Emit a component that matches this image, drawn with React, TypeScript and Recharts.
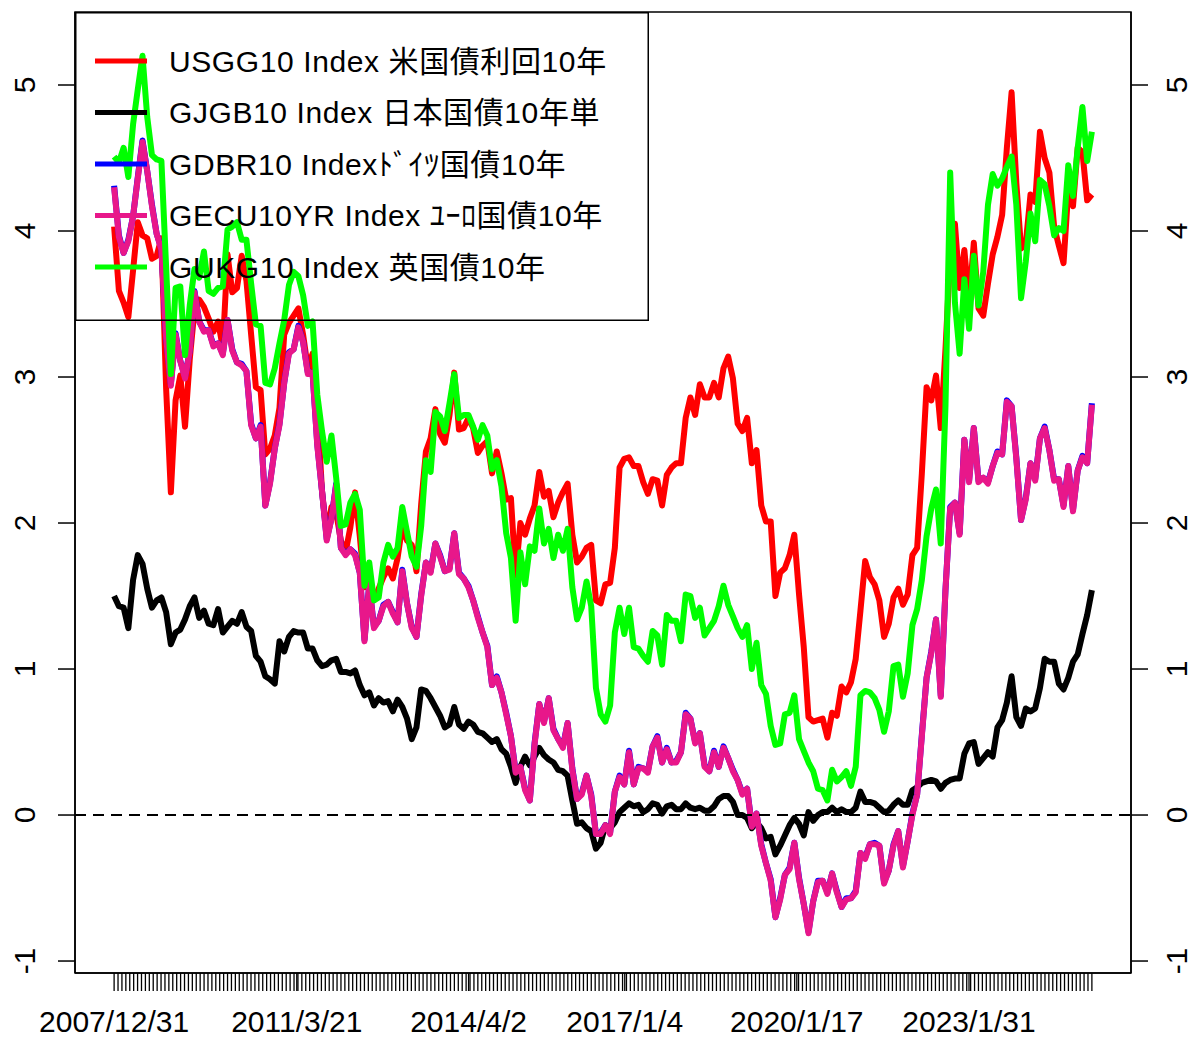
import React from 'react';
import { LineChart, Line, XAxis, YAxis, ReferenceLine, ReferenceArea, Legend } from 'recharts';

// x labels shown on the axis (R's date labels)
const xLabelDates = ['2007/12/31', '2011/3/21', '2014/4/2', '2017/1/4', '2020/1/17', '2023/1/31'];
const yTicks = [-1, 0, 1, 2, 3, 4, 5];

// first point 2007/12/31, then month-end values Jan 2008 .. Mar 2025
const usgg10 = [
  4.03,
  3.59, 3.51, 3.41, 3.73, 4.06, 3.97, 3.95, 3.81, 3.83, 3.95, 2.92, 2.21,
  2.84, 3.01, 2.66, 3.12, 3.46, 3.53, 3.48, 3.40, 3.31, 3.38, 3.20, 3.84,
  3.58, 3.61, 3.83, 3.66, 3.29, 2.93, 2.91, 2.47, 2.51, 2.60, 2.79, 3.29,
  3.37, 3.42, 3.47, 3.29, 3.06, 3.16, 2.80, 2.22, 1.92, 2.11, 2.07, 1.88,
  1.80, 1.97, 2.21, 1.91, 1.56, 1.65, 1.47, 1.55, 1.63, 1.69, 1.62, 1.76,
  1.98, 1.88, 1.85, 1.67, 2.13, 2.49, 2.58, 2.78, 2.61, 2.55, 2.74, 3.03,
  2.64, 2.65, 2.72, 2.65, 2.48, 2.53, 2.56, 2.34, 2.49, 2.34, 2.16, 2.17,
  1.64, 2.00, 1.92, 2.03, 2.12, 2.35, 2.18, 2.22, 2.04, 2.14, 2.21, 2.27,
  1.92, 1.73, 1.77, 1.83, 1.85, 1.47, 1.45, 1.58, 1.59, 1.83, 2.38, 2.44,
  2.45, 2.39, 2.39, 2.28, 2.20, 2.30, 2.29, 2.12, 2.33, 2.38, 2.41, 2.41,
  2.72, 2.86, 2.74, 2.95, 2.86, 2.86, 2.96, 2.86, 3.06, 3.14, 2.99, 2.68,
  2.63, 2.72, 2.41, 2.50, 2.12, 2.01, 2.01, 1.50, 1.66, 1.69, 1.78, 1.92,
  1.51, 1.15, 0.67, 0.64, 0.65, 0.66, 0.53, 0.70, 0.68, 0.88, 0.84, 0.91,
  1.07, 1.40, 1.74, 1.63, 1.58, 1.47, 1.22, 1.31, 1.49, 1.55, 1.44, 1.51,
  1.78, 1.83, 2.34, 2.93, 2.84, 3.01, 2.65, 3.19, 3.83, 4.05, 3.61, 3.87,
  3.51, 3.92, 3.47, 3.42, 3.64, 3.84, 3.96, 4.11, 4.57, 4.95, 4.33, 3.88,
  3.91, 4.25, 4.20, 4.68, 4.50, 4.40, 4.03, 3.90, 3.78, 4.28, 4.17, 4.57,
  4.54, 4.21, 4.25,
];

const gjgb10 = [
  1.50,
  1.43, 1.42, 1.28, 1.61, 1.78, 1.72, 1.55, 1.42, 1.47, 1.49, 1.39, 1.17,
  1.25, 1.27, 1.34, 1.43, 1.49, 1.35, 1.40, 1.31, 1.30, 1.41, 1.25, 1.29,
  1.33, 1.31, 1.39, 1.29, 1.26, 1.09, 1.05, 0.95, 0.93, 0.90, 1.19, 1.12,
  1.22, 1.26, 1.25, 1.25, 1.14, 1.14, 1.06, 1.02, 1.03, 1.06, 1.07, 0.98,
  0.98, 0.97, 0.99, 0.89, 0.82, 0.84, 0.75, 0.80, 0.77, 0.78, 0.71, 0.79,
  0.74, 0.66, 0.52, 0.60, 0.86, 0.85, 0.80, 0.74, 0.68, 0.60, 0.62, 0.74,
  0.62, 0.59, 0.64, 0.62, 0.57, 0.56, 0.53, 0.50, 0.52, 0.45, 0.42, 0.33,
  0.22, 0.33, 0.40, 0.34, 0.40, 0.46, 0.41, 0.38, 0.36, 0.31, 0.30, 0.27,
  0.10, -0.06, -0.05, -0.09, -0.11, -0.23, -0.19, -0.07, -0.09, -0.05, 0.02, 0.05,
  0.08, 0.06, 0.07, 0.02, 0.04, 0.08, 0.07, 0.01, 0.06, 0.07, 0.04, 0.04,
  0.08, 0.05, 0.04, 0.05, 0.03, 0.03, 0.06, 0.11, 0.13, 0.13, 0.09, 0.00,
  0.00, -0.02, -0.09, -0.05, -0.09, -0.16, -0.15, -0.27, -0.21, -0.14, -0.07, -0.02,
  -0.06, -0.14, 0.02, -0.04, 0.00, 0.02, 0.02, 0.05, 0.02, 0.04, 0.02, 0.02,
  0.05, 0.16, 0.09, 0.09, 0.08, 0.05, 0.02, 0.03, 0.07, 0.10, 0.07, 0.07,
  0.17, 0.19, 0.22, 0.23, 0.24, 0.23, 0.18, 0.22, 0.24, 0.25, 0.25, 0.42,
  0.49, 0.50, 0.35, 0.39, 0.43, 0.40, 0.60, 0.65, 0.77, 0.95, 0.67, 0.61,
  0.73, 0.71, 0.73, 0.87, 1.07, 1.05, 1.05, 0.90, 0.86, 0.94, 1.05, 1.10,
  1.24, 1.37, 1.54,
];

const gdbr10 = [
  4.31,
  3.97, 3.85, 3.94, 4.10, 4.37, 4.62, 4.41, 4.18, 3.98, 3.88, 3.27, 2.95,
  3.30, 3.11, 3.00, 3.18, 3.59, 3.38, 3.32, 3.32, 3.22, 3.23, 3.16, 3.39,
  3.19, 3.10, 3.09, 3.04, 2.68, 2.58, 2.67, 2.12, 2.28, 2.51, 2.68, 2.96,
  3.17, 3.19, 3.35, 3.24, 3.03, 3.03, 2.54, 2.22, 1.89, 2.03, 2.27, 1.83,
  1.79, 1.82, 1.79, 1.66, 1.20, 1.58, 1.29, 1.33, 1.44, 1.46, 1.39, 1.32,
  1.68, 1.45, 1.29, 1.22, 1.51, 1.73, 1.67, 1.86, 1.78, 1.67, 1.69, 1.93,
  1.66, 1.62, 1.57, 1.47, 1.36, 1.25, 1.16, 0.89, 0.95, 0.84, 0.70, 0.54,
  0.30, 0.33, 0.18, 0.10, 0.49, 0.76, 0.64, 0.80, 0.59, 0.52, 0.47, 0.63,
  0.32, 0.11, 0.15, 0.27, 0.14, -0.13, -0.12, -0.07, -0.12, 0.16, 0.27, 0.21,
  0.44, 0.21, 0.33, 0.32, 0.30, 0.47, 0.54, 0.36, 0.46, 0.36, 0.37, 0.43,
  0.70, 0.66, 0.50, 0.56, 0.34, 0.30, 0.44, 0.33, 0.47, 0.39, 0.31, 0.24,
  0.15, 0.18, -0.07, 0.01, -0.20, -0.33, -0.44, -0.70, -0.57, -0.41, -0.36, -0.19,
  -0.43, -0.61, -0.80, -0.59, -0.45, -0.45, -0.53, -0.40, -0.52, -0.63, -0.57, -0.57,
  -0.52, -0.26, -0.29, -0.20, -0.19, -0.21, -0.46, -0.38, -0.20, -0.11, -0.35, -0.18,
  0.01, 0.14, 0.55, 0.94, 1.12, 1.34, 0.82, 1.54, 2.11, 2.14, 1.93, 2.57,
  2.29, 2.65, 2.29, 2.31, 2.28, 2.39, 2.49, 2.47, 2.84, 2.80, 2.45, 2.02,
  2.17, 2.41, 2.30, 2.58, 2.66, 2.50, 2.30, 2.30, 2.12, 2.39, 2.09, 2.36,
  2.46, 2.41, 2.82,
];

const gecu10yr = [
  4.30,
  3.96, 3.85, 3.93, 4.10, 4.36, 4.61, 4.41, 4.17, 3.98, 3.87, 3.27, 2.94,
  3.29, 3.11, 2.99, 3.18, 3.58, 3.38, 3.31, 3.32, 3.21, 3.23, 3.15, 3.39,
  3.18, 3.10, 3.08, 3.04, 2.67, 2.58, 2.66, 2.12, 2.27, 2.51, 2.67, 2.96,
  3.16, 3.19, 3.34, 3.24, 3.02, 3.03, 2.53, 2.22, 1.88, 2.03, 2.26, 1.83,
  1.78, 1.82, 1.78, 1.66, 1.19, 1.58, 1.28, 1.33, 1.43, 1.46, 1.38, 1.32,
  1.67, 1.45, 1.28, 1.22, 1.50, 1.73, 1.66, 1.86, 1.77, 1.67, 1.68, 1.93,
  1.65, 1.62, 1.56, 1.47, 1.35, 1.25, 1.15, 0.89, 0.94, 0.84, 0.69, 0.54,
  0.29, 0.33, 0.17, 0.10, 0.48, 0.76, 0.63, 0.80, 0.58, 0.52, 0.46, 0.63,
  0.31, 0.11, 0.14, 0.27, 0.13, -0.13, -0.13, -0.07, -0.13, 0.16, 0.26, 0.21,
  0.43, 0.21, 0.32, 0.32, 0.29, 0.47, 0.53, 0.36, 0.45, 0.36, 0.36, 0.43,
  0.69, 0.66, 0.49, 0.56, 0.33, 0.30, 0.43, 0.33, 0.46, 0.39, 0.30, 0.24,
  0.14, 0.18, -0.08, 0.01, -0.21, -0.33, -0.45, -0.70, -0.58, -0.41, -0.37, -0.19,
  -0.44, -0.61, -0.81, -0.59, -0.46, -0.45, -0.54, -0.40, -0.53, -0.63, -0.58, -0.57,
  -0.53, -0.26, -0.30, -0.20, -0.20, -0.21, -0.47, -0.38, -0.21, -0.11, -0.36, -0.18,
  0.00, 0.14, 0.54, 0.94, 1.11, 1.34, 0.81, 1.54, 2.10, 2.14, 1.92, 2.57,
  2.28, 2.65, 2.28, 2.31, 2.27, 2.39, 2.48, 2.47, 2.83, 2.80, 2.44, 2.02,
  2.16, 2.41, 2.29, 2.58, 2.65, 2.50, 2.29, 2.30, 2.11, 2.39, 2.08, 2.36,
  2.45, 2.41, 2.81,
];

const gukg10 = [
  4.51,
  4.47, 4.57, 4.37, 4.73, 4.97, 5.20, 4.78, 4.52, 4.49, 4.48, 3.75, 3.02,
  3.61, 3.62, 3.15, 3.49, 3.74, 3.68, 3.86, 3.59, 3.57, 3.61, 3.62, 4.01,
  4.03, 4.06, 3.94, 3.94, 3.64, 3.36, 3.35, 2.96, 2.95, 3.06, 3.23, 3.39,
  3.63, 3.72, 3.69, 3.56, 3.35, 3.38, 2.88, 2.63, 2.42, 2.60, 2.31, 1.98,
  1.99, 2.14, 2.20, 2.09, 1.57, 1.73, 1.47, 1.49, 1.73, 1.85, 1.77, 1.83,
  2.11, 1.94, 1.77, 1.70, 1.98, 2.43, 2.35, 2.76, 2.73, 2.63, 2.82, 3.02,
  2.72, 2.74, 2.74, 2.66, 2.57, 2.67, 2.60, 2.37, 2.43, 2.25, 1.93, 1.76,
  1.33, 1.80, 1.58, 1.84, 1.81, 2.10, 1.86, 1.96, 1.76, 1.92, 1.81, 1.96,
  1.56, 1.34, 1.42, 1.60, 1.43, 0.87, 0.69, 0.64, 0.75, 1.25, 1.42, 1.24,
  1.42, 1.15, 1.14, 1.09, 1.05, 1.26, 1.23, 1.03, 1.37, 1.33, 1.33, 1.19,
  1.51, 1.50, 1.35, 1.42, 1.23, 1.28, 1.33, 1.43, 1.57, 1.44, 1.36, 1.28,
  1.22, 1.30, 1.00, 1.18, 0.89, 0.83, 0.61, 0.48, 0.49, 0.69, 0.70, 0.82,
  0.52, 0.44, 0.36, 0.30, 0.18, 0.17, 0.10, 0.31, 0.23, 0.26, 0.30, 0.20,
  0.33, 0.82, 0.85, 0.84, 0.80, 0.72, 0.57, 0.71, 1.02, 1.03, 0.81, 0.97,
  1.30, 1.41, 1.61, 1.91, 2.10, 2.23, 1.86, 2.80, 4.40, 3.51, 3.16, 3.67,
  3.33, 3.83, 3.49, 3.72, 4.18, 4.39, 4.31, 4.36, 4.44, 4.51, 4.18, 3.54,
  3.79, 4.12, 3.93, 4.35, 4.32, 4.17, 3.97, 4.02, 4.00, 4.45, 4.24, 4.57,
  4.85, 4.48, 4.68,
];

const seriesInfo = [
  { key: 'usgg10', name: 'USGG10 Index 米国債利回10年', color: '#FF0000', values: usgg10 },
  { key: 'gjgb10', name: 'GJGB10 Index 日本国債10年単', color: '#000000', values: gjgb10 },
  { key: 'gdbr10', name: 'GDBR10 Indexﾄﾞｲﾂ国債10年', color: '#0000FF', values: gdbr10 },
  { key: 'gecu10yr', name: 'GECU10YR Index ﾕｰﾛ国債10年', color: '#E8178A', values: gecu10yr },
  { key: 'gukg10', name: 'GUKG10 Index 英国債10年', color: '#00FF00', values: gukg10 },
];

const dateToYear = (s: string) => {
  const [y, m, d] = s.split('/').map(Number);
  return y + (m - 1) / 12 + (d - 1) / 365;
};

const rows = usgg10.map((_, k) => {
  const row: any = { t: k === 0 ? dateToYear('2007/12/31') : 2008 + k / 12 };
  seriesInfo.forEach((s) => { row[s.key] = s.values[k]; });
  return row;
});

const tStart = rows[0].t;
const tEnd = rows[rows.length - 1].t;
const tPad = (tEnd - tStart) * 0.04;
const xDomain: [number, number] = [tStart - tPad, tEnd + tPad];
const yDomain: [number, number] = [-1.082, 5.5];

const labelTicks = xLabelDates.map((s) => ({ t: dateToYear(s), label: s }));
const minorCount = 250;
const minorTicks = Array.from({ length: minorCount + 1 }, (_, j) => tStart + (j * (tEnd - tStart)) / minorCount);
const allTicks = Array.from(
  new Set([...minorTicks.filter((m) => !labelTicks.some((l) => Math.abs(l.t - m) < 1e-6)), ...labelTicks.map((l) => l.t)])
).sort((a, b) => a - b);

const FONT = '"Liberation Sans", Arial, "Noto Sans CJK JP", sans-serif';

const XTick = (props: any) => {
  const { x, payload } = props;
  const lab = labelTicks.find((l) => Math.abs(l.t - payload.value) < 1e-9);
  if (!lab) return <g />;
  return (
    <text x={x} y={1032} textAnchor="middle" fontSize={30} fontFamily={FONT} fill="#000">
      {lab.label}
    </text>
  );
};

const makeYTick = (cx: number) => (props: any) => {
  const { y, payload } = props;
  return (
    <text
      transform={`translate(${cx + 10.7},${y}) rotate(-90)`}
      x={0}
      y={0}
      textAnchor="middle"
      fontSize={30}
      fontFamily={FONT}
      fill="#000"
    >
      {String(payload.value)}
    </text>
  );
};

const LegendBox = () => (
  <svg width={574} height={309} style={{ display: 'block', overflow: 'visible' }}>
    <rect x={0.75} y={0.75} width={572.5} height={307.5} fill="none" stroke="#000" strokeWidth={1.5} />
    {seriesInfo.map((s, i) => {
      const cy = 49 + i * 51.5;
      return (
        <g key={s.key}>
          <line x1={20} x2={72} y1={cy} y2={cy} stroke={s.color} strokeWidth={5} />
          <text x={94} y={cy + 10.5} fontSize={30} letterSpacing={0.6} fontFamily={FONT} fill="#000">
            {s.name}
          </text>
        </g>
      );
    })}
  </svg>
);

export default function App() {
  return (
    <div style={{ position: 'absolute', left: 0, top: 0, width: 1192, height: 1037, background: '#fff' }}>
      <LineChart width={1192} height={1037} data={rows} margin={{ top: 12, right: 0, bottom: 0, left: 0 }}>
        <XAxis
          dataKey="t"
          type="number"
          domain={xDomain}
          allowDataOverflow
          ticks={allTicks}
          interval={0}
          height={64}
          tickSize={18}
          tickLine={{ stroke: '#000', strokeWidth: 1.3 }}
          axisLine={{ stroke: '#000', strokeWidth: 1.5 }}
          tick={<XTick />}
        />
        <YAxis
          yAxisId="left"
          type="number"
          domain={yDomain}
          allowDataOverflow
          ticks={yTicks}
          interval={0}
          width={75}
          tickSize={17}
          tickLine={{ stroke: '#000', strokeWidth: 1.5 }}
          axisLine={{ stroke: '#000', strokeWidth: 1.5 }}
          tick={makeYTick(24)}
        />
        <YAxis
          yAxisId="right"
          orientation="right"
          type="number"
          domain={yDomain}
          allowDataOverflow
          ticks={yTicks}
          interval={0}
          width={61}
          tickSize={17}
          tickLine={{ stroke: '#000', strokeWidth: 1.5 }}
          axisLine={{ stroke: '#000', strokeWidth: 1.5 }}
          tick={makeYTick(1176)}
        />
        {seriesInfo.map((s) => (
          <Line
            key={s.key}
            yAxisId="left"
            type="linear"
            dataKey={s.key}
            name={s.name}
            stroke={s.color}
            strokeWidth={6}
            strokeLinejoin="round"
            dot={false}
            activeDot={false}
            isAnimationActive={false}
          />
        ))}
        <ReferenceLine yAxisId="left" y={0} stroke="#000" strokeWidth={2} strokeDasharray="11 7" />
        <ReferenceArea
          yAxisId="left"
          x1={xDomain[0]}
          x2={xDomain[1]}
          y1={yDomain[0]}
          y2={yDomain[1]}
          fill="none"
          fillOpacity={0}
          stroke="#000"
          strokeWidth={1.5}
        />
        <Legend
          layout="vertical"
          verticalAlign="middle"
          align="center"
          content={<LegendBox />}
          wrapperStyle={{ position: 'absolute', left: 75, top: 12, width: 574, height: 309 }}
        />
      </LineChart>
    </div>
  );
}
